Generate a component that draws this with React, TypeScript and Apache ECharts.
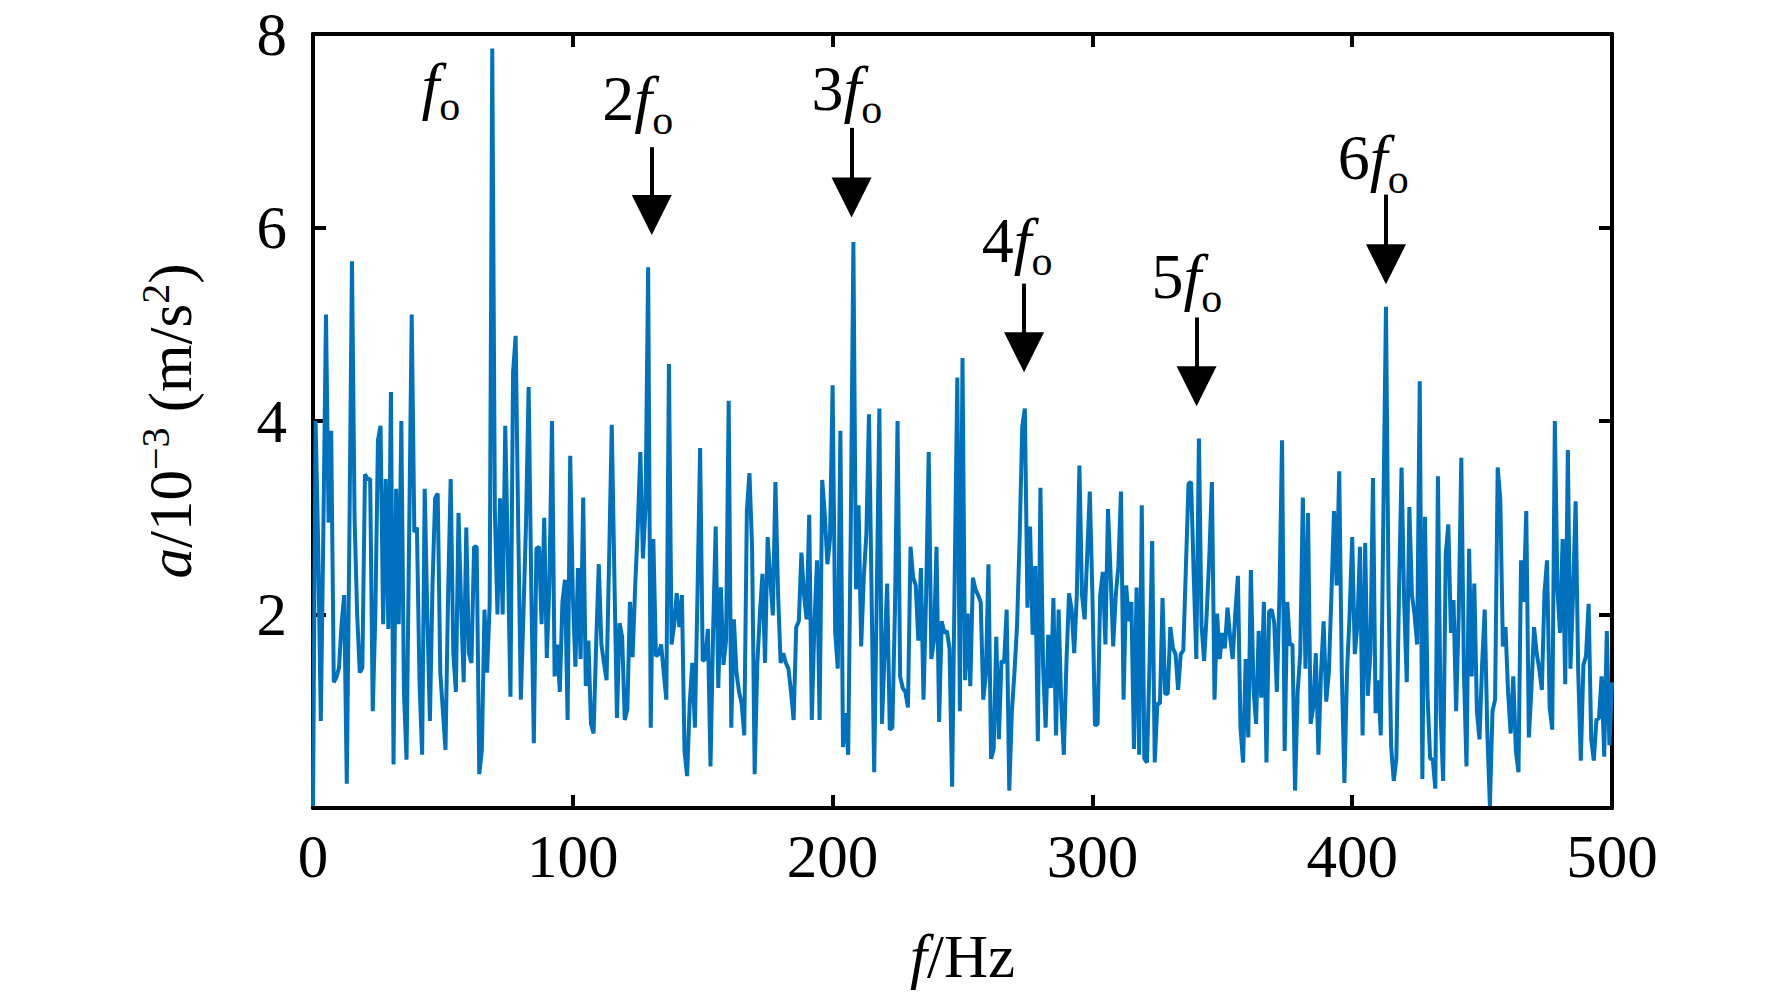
import React, { useEffect, useRef } from 'react';
import * as echarts from 'echarts';

// Spectrum amplitude (10^-3 m/s^2), one value per Hz
const band000: number[] = [
  0.02, 4.0, 2.7, 0.9, 2.9, 5.1, 2.95, 3.9, 1.3, 1.35,
  1.45, 1.9, 2.2, 0.25, 2.8, 5.65, 3.0, 2.0, 1.4, 1.45,
  3.45, 3.4, 3.4, 1.0, 2.0, 3.8, 3.95, 1.9, 3.4, 1.85,
  4.3, 0.45, 3.3, 1.9, 4.0, 1.2, 0.5, 2.8, 5.1, 2.85,
  2.9, 1.3, 0.55, 3.3, 2.0, 0.9, 2.3, 3.2, 3.25, 1.4,
  1.0, 0.6, 2.2, 3.4, 1.6, 1.2, 3.05, 2.1, 1.3, 2.9,
  1.6, 1.5, 2.7, 2.7, 0.35, 0.6, 2.05, 1.4, 2.1, 7.85,
  3.05, 2.0, 3.2, 2.0, 3.95, 2.6, 1.15, 4.5, 4.88, 2.9,
  1.12, 2.0, 2.95, 4.35, 2.3, 0.67, 2.68, 2.7, 1.9, 3.0,
  1.55, 2.32, 4.0, 1.36, 1.69, 1.2, 2.13, 2.36, 0.91, 3.64,
];
const band100: number[] = [
  2.2, 1.46, 2.48, 1.54, 3.21, 1.26, 1.73, 0.87, 0.77, 1.7,
  2.52, 1.69, 1.5, 1.32, 2.6, 3.96, 2.4, 0.93, 1.91, 1.77,
  0.91, 1.02, 2.13, 1.56, 2.28, 2.9, 3.68, 2.58, 3.11, 5.59,
  0.83, 2.78, 1.57, 1.59, 1.69, 1.4, 1.12, 4.59, 1.69, 1.89,
  2.22, 1.87, 2.2, 0.59, 0.33, 1.08, 1.5, 0.83, 2.22, 3.72,
  1.52, 1.54, 1.85, 0.43, 1.81, 2.91, 1.24, 2.28, 1.48, 1.73,
  4.21, 0.83, 1.95, 1.4, 1.2, 1.08, 0.75, 3.07, 3.46, 2.7,
  0.35, 1.48, 2.0, 2.42, 1.5, 2.8, 2.38, 1.99, 3.37, 2.22,
  1.5, 1.6, 1.5, 1.44, 1.2, 0.91, 1.87, 1.93, 2.64, 2.2,
  1.95, 3.03, 0.91, 1.9, 2.56, 0.91, 3.39, 3.03, 2.52, 2.78,
];
const band200: number[] = [
  4.37, 1.81, 1.44, 3.9, 0.63, 0.98, 0.55, 2.9, 5.85, 2.26,
  3.13, 1.67, 2.38, 2.83, 4.07, 2.22, 0.37, 2.2, 4.13, 0.87,
  1.6, 2.32, 0.81, 0.83, 2.05, 4.0, 1.36, 1.24, 1.2, 1.04,
  2.7, 2.38, 2.3, 1.73, 2.48, 1.12, 2.2, 3.68, 1.54, 1.73,
  2.7, 0.89, 1.93, 1.81, 1.83, 1.65, 0.22, 2.4, 4.45, 1.0,
  4.65, 1.32, 2.01, 1.26, 2.38, 2.26, 2.2, 2.13, 1.12, 1.38,
  2.52, 0.51, 0.61, 1.77, 0.71, 1.52, 1.5, 2.05, 0.18, 1.0,
  1.4, 1.89, 2.8, 3.94, 4.13, 2.07, 2.91, 1.79, 2.5, 0.69,
  3.31, 1.48, 0.83, 1.79, 1.24, 2.17, 0.75, 2.05, 1.08, 0.55,
  1.5, 2.22, 2.05, 1.6, 2.2, 3.54, 2.2, 1.95, 2.62, 3.27,
];
const band300: number[] = [
  2.2, 0.85, 0.87, 2.2, 2.44, 1.69, 3.09, 2.42, 1.67, 2.2,
  2.5, 3.27, 1.12, 2.3, 1.93, 2.13, 0.61, 2.28, 0.55, 3.13,
  0.51, 0.47, 1.5, 2.76, 0.47, 1.08, 1.08, 2.17, 1.18, 1.18,
  1.87, 1.65, 1.59, 1.22, 1.59, 1.63, 2.5, 3.35, 3.37, 2.4,
  1.54, 3.82, 1.89, 1.52, 2.01, 2.6, 3.37, 1.12, 2.01, 1.54,
  1.81, 1.65, 2.07, 1.77, 1.54, 2.01, 2.4, 0.83, 0.47, 1.54,
  0.73, 2.46, 1.24, 0.87, 1.83, 1.14, 2.13, 0.47, 2.03, 2.05,
  1.91, 1.2, 2.2, 3.8, 0.59, 2.13, 1.69, 1.69, 0.18, 1.2,
  1.59, 3.21, 1.44, 3.05, 0.87, 1.04, 1.6, 0.55, 1.4, 1.93,
  1.1, 1.4, 2.2, 3.07, 2.3, 3.48, 1.4, 0.26, 1.4, 2.0,
];
const band400: number[] = [
  2.8, 1.59, 1.89, 2.7, 0.75, 2.74, 1.16, 1.6, 3.41, 0.98,
  1.32, 0.75, 3.03, 5.18, 2.2, 0.63, 0.28, 0.51, 2.2, 3.52,
  2.13, 1.3, 3.11, 2.2, 2.0, 1.69, 4.41, 0.3, 3.01, 1.16,
  0.51, 0.5, 0.2, 3.43, 1.0, 0.28, 2.62, 2.93, 1.81, 2.15,
  1.0, 2.0, 3.62, 1.4, 0.43, 2.68, 1.36, 2.32, 1.0, 0.71,
  1.48, 2.05, 0.79, 0.02, 1.0, 1.12, 3.52, 3.19, 1.67, 1.87,
  1.2, 0.77, 1.36, 0.59, 0.37, 2.56, 2.13, 3.07, 0.73, 1.24,
  1.87, 1.6, 1.44, 1.22, 2.22, 2.56, 1.04, 0.81, 4.0, 2.26,
  1.81, 2.78, 1.28, 3.7, 1.44, 2.2, 3.17, 1.4, 0.49, 1.48,
  1.57, 2.11, 0.71, 0.49, 0.91, 0.93, 1.36, 0.53, 1.83, 0.65,
  1.3,
];

const amplitude = [...band000, ...band100, ...band200, ...band300, ...band400];

// harmonic labels: multiplier text and where the label sits (Hz, amplitude)
const harmonicNames = ['', '2', '3', '4', '5', '6'];
const harmonicLabelHz = [49.2, 125.0, 205.5, 271.0, 336.4, 408.1];
const harmonicLabelAmp = [7.47, 7.33, 7.44, 5.87, 5.49, 6.72];

// arrows for 2fo..6fo: shaft top and arrow-head centre
const arrowHz = [130.4, 207.3, 273.7, 340.1, 413.0];
const arrowTop = [6.83, 7.03, 5.42, 5.07, 6.34];
const arrowHead = [6.13, 6.31, 4.71, 4.36, 5.62];

const FONT = '"Liberation Serif", "Times New Roman", serif';
const BLACK = '#000';

const SpectrumChart: React.FC = () => {
  const chartRef = useRef<HTMLDivElement | null>(null);

  useEffect(() => {
    document.body.style.margin = '0';
    if (!chartRef.current) return;
    const chart = echarts.init(chartRef.current, undefined, { renderer: 'svg' });

    const frameLine = { show: true, onZero: false, lineStyle: { color: BLACK, width: 4 } };
    const frameTick = { show: true, inside: true, length: 13, lineStyle: { color: BLACK, width: 4 } };
    const tickFont = { fontSize: 61, fontFamily: FONT, color: BLACK };

    const option = {
      animation: false,
      backgroundColor: '#fff',
      grid: { left: 313, top: 34, width: 1299, bottom: 188, containLabel: false },
      xAxis: [
        {
          type: 'value', position: 'bottom', min: 0, max: 500, interval: 100,
          axisLine: frameLine, axisTick: frameTick, splitLine: { show: false },
          axisLabel: { ...tickFont, margin: 18 },
          name: '{i|f}/Hz', nameLocation: 'middle', nameGap: 118,
          nameTextStyle: {
            ...tickFont,
            rich: { i: { ...tickFont, fontStyle: 'italic' } },
          },
        },
        {
          type: 'value', position: 'top', min: 0, max: 500, interval: 100,
          axisLine: frameLine, axisTick: frameTick, splitLine: { show: false },
          axisLabel: { show: false },
        },
      ],
      yAxis: [
        {
          type: 'value', position: 'left', min: 0, max: 8, interval: 2,
          axisLine: frameLine, axisTick: frameTick, splitLine: { show: false },
          axisLabel: { ...tickFont, margin: 26, formatter: (v: number) => (v === 0 ? '' : String(v)) },
          name: '{i|a}/10{sup|\u22123} (m/s{sup|2})', nameLocation: 'middle', nameRotate: 90, nameGap: 108,
          nameTextStyle: {
            ...tickFont,
            rich: {
              i: { ...tickFont, fontStyle: 'italic', lineHeight: 70 },
              sup: { fontSize: 40, fontFamily: FONT, color: BLACK, lineHeight: 40, verticalAlign: 'top' },
            },
          },
        },
        {
          type: 'value', position: 'right', min: 0, max: 8, interval: 2,
          axisLine: frameLine, axisTick: frameTick, splitLine: { show: false },
          axisLabel: { show: false },
        },
      ],
      series: [
        {
          type: 'line',
          xAxisIndex: 0,
          yAxisIndex: 0,
          data: amplitude.map((v, hz) => [hz, v]),
          showSymbol: false,
          symbol: 'none',
          silent: true,
          lineStyle: { color: '#0072BD', width: 4 },
          markLine: {
            silent: true,
            symbol: ['none', 'triangle'],
            symbolSize: 40,
            label: { show: false },
            lineStyle: { color: BLACK, width: 4, type: 'solid' },
            itemStyle: { color: BLACK },
            emphasis: { disabled: true },
            data: arrowHz.map((hz, i) => [
              { coord: [hz, arrowTop[i]] },
              { coord: [hz, arrowHead[i]] },
            ]),
          },
          markPoint: {
            silent: true,
            symbol: 'circle',
            symbolSize: 1,
            itemStyle: { color: 'transparent' },
            label: {
              show: true,
              position: 'inside',
              color: BLACK,
              formatter: (p: any) => (p.name ? `{n|${p.name}}` : '') + '{i|f}{s|o}',
              rich: {
                n: { fontSize: 64, fontFamily: FONT, color: BLACK, lineHeight: 84 },
                i: { fontSize: 64, fontFamily: FONT, color: BLACK, fontStyle: 'italic', lineHeight: 84 },
                s: { fontSize: 42, fontFamily: FONT, color: BLACK, lineHeight: 42, verticalAlign: 'bottom' },
              },
            },
            data: harmonicNames.map((name, i) => ({
              name,
              coord: [harmonicLabelHz[i], harmonicLabelAmp[i]],
            })),
          },
        },
      ],
    };

    chart.setOption(option);
    return () => {
      chart.dispose();
    };
  }, []);

  return <div ref={chartRef} style={{ width: '1772px', height: '996px', margin: 0 }} />;
};

export default function App() {
  return <SpectrumChart />;
}
